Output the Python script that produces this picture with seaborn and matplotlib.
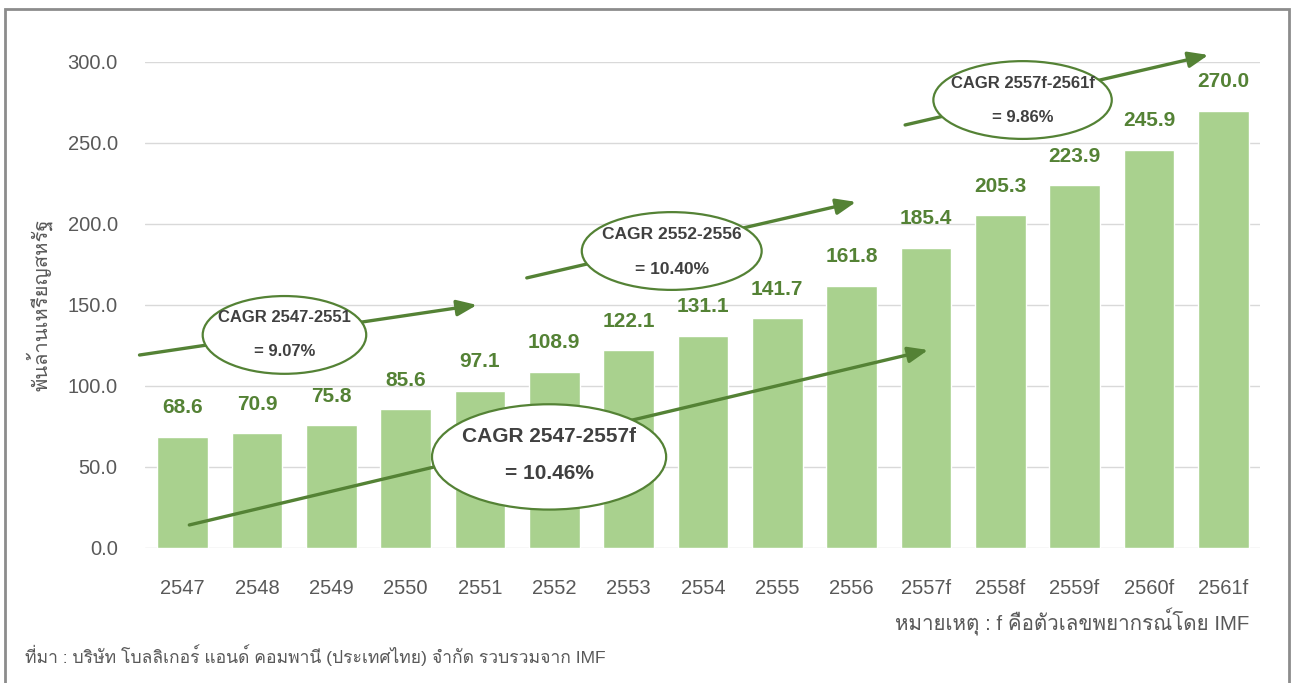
import matplotlib
matplotlib.use('Agg')
import matplotlib.pyplot as plt
from matplotlib import font_manager
from matplotlib.ft2font import FT2Font
from matplotlib.patches import Ellipse, Rectangle
import pandas as pd
import seaborn as sns

# Data
years = ['2547', '2548', '2549', '2550', '2551', '2552', '2553', '2554',
         '2555', '2556', '2557f', '2558f', '2559f', '2560f', '2561f']
values = [68.6, 70.9, 75.8, 85.6, 97.1, 108.9, 122.1, 131.1,
          141.7, 161.8, 185.4, 205.3, 223.9, 245.9, 270.0]
y_ticks = [0, 50, 100, 150, 200, 250, 300]

df = pd.DataFrame({'year': years, 'value': values})

sns.set_theme(style='white')

# find an installed font that can draw Thai
thai_family = None
for f in font_manager.fontManager.ttflist:
    try:
        if 0x0E01 in FT2Font(f.fname).get_charmap():
            thai_family = f.name
            break
    except Exception:
        pass
families = ['Liberation Sans']
if thai_family:
    families.append(thai_family)
families.append('DejaVu Sans')
plt.rcParams['font.family'] = families

BAR = '#A9D18E'
DARK = '#548235'
GRAY = '#595959'

fig = plt.figure(figsize=(12.93, 6.83), dpi=100)
ax = fig.add_axes([0.1125, 0.1977, 0.8623, 0.7116])

sns.barplot(data=df, x='year', y='value', color=BAR, width=0.68,
            saturation=1, ax=ax, zorder=2)
ax.bar_label(ax.containers[0], fmt='%.1f', padding=14, fontsize=15,
             fontweight='bold', color=DARK)

ax.set_ylim(0, 300)
ax.set_yticks(y_ticks)
ax.set_yticklabels([f'{v:.1f}' for v in y_ticks])
ax.yaxis.grid(True, color='#D9D9D9', lw=1)
ax.set_axisbelow(True)
for s in ax.spines.values():
    s.set_visible(False)
ax.tick_params(axis='x', pad=22, length=0, labelsize=14.5, labelcolor=GRAY)
ax.tick_params(axis='y', pad=20, length=0, labelsize=14.5, labelcolor=GRAY)
ax.set_xlabel('')
ax.set_ylabel('พันล้านเหรียญสหรัฐ', fontsize=14.5, color=GRAY)
ax.yaxis.set_label_coords(-0.083, 0.5)

# CAGR arrows with ellipse call-outs
notes = [
    ((-0.58, 119.1), (3.96, 150.0), (1.37, 131.5), 2.2, 48,
     'CAGR 2547-2551', '= 9.07%', 142, 121, 12),
    ((4.63, 166.7), (9.06, 213.6), (6.58, 183.3), 2.42, 48,
     'CAGR 2552-2556', '= 10.40%', 193.8, 171.6, 12.5),
    ((9.72, 261.1), (13.8, 304.3), (11.30, 276.5), 2.4, 48,
     'CAGR 2557f-2561f', '= 9.86%', 286.5, 265.5, 12),
    ((0.09, 14.2), (10.03, 122.2), (4.93, 56.2), 3.15, 65,
     'CAGR 2547-2557f', '= 10.46%', 69.1, 45.7, 15),
]
for start, end, c, w, h, t1, t2, y1, y2, fs in notes:
    ax.annotate('', xy=end, xytext=start, annotation_clip=False,
                arrowprops=dict(arrowstyle='-|>,head_length=1.0,head_width=0.4',
                                color=DARK, lw=2.4, shrinkA=0, shrinkB=0),
                zorder=4)
    ax.add_patch(Ellipse(c, w, h, facecolor='white', edgecolor=DARK,
                         lw=1.6, zorder=5, clip_on=False))
    ax.text(c[0], y1, t1, ha='center', va='center', fontsize=fs,
            fontweight='bold', color='#404040', zorder=6)
    ax.text(c[0], y2, t2, ha='center', va='center', fontsize=fs,
            fontweight='bold', color='#404040', zorder=6)

fig.text(0.966, 0.09, 'หมายเหตุ : f คือตัวเลขพยากรณ์โดย IMF', ha='right',
         va='center', fontsize=14.8, color=GRAY)
fig.text(0.019, 0.041, 'ที่มา : บริษัท โบลลิเกอร์ แอนด์ คอมพานี (ประเทศไทย) จำกัด รวบรวมจาก IMF',
         ha='left', va='center', fontsize=12.6, color=GRAY)

# outer frame
fig.patches.append(Rectangle((0.004, -0.05), 0.993, 1.037, transform=fig.transFigure,
                             fill=False, edgecolor='#8C8C8C', lw=2))

fig.savefig('out.png', dpi=100)
